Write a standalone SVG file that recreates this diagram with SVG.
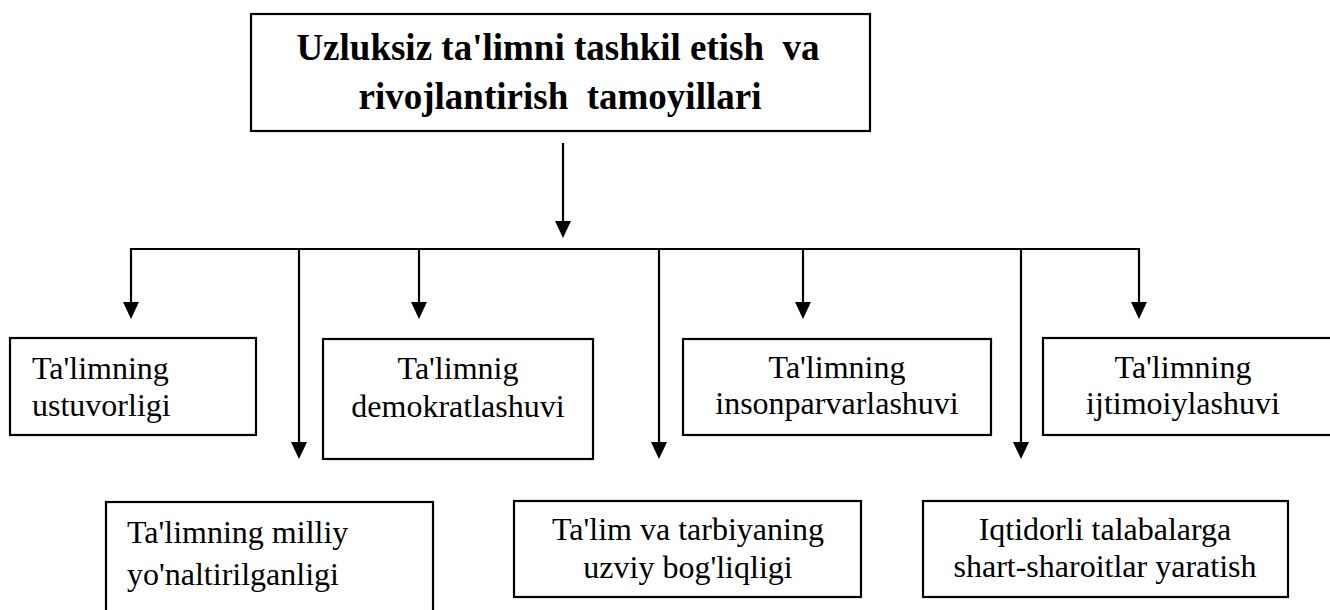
<svg xmlns="http://www.w3.org/2000/svg" width="1330" height="610" viewBox="0 0 1330 610">
<style>
.box{fill:#fff;stroke:#000;stroke-width:2.2}
.t{font-family:"Liberation Serif","Times New Roman",serif;font-size:32px;fill:#000;white-space:pre}
.title{font-family:"Liberation Serif","Times New Roman",serif;font-size:37px;font-weight:bold;fill:#000;white-space:pre}
.c{text-anchor:middle}
.ln{fill:none;stroke:#000;stroke-width:2.2}
</style>
<defs>
<marker id="ah" markerUnits="userSpaceOnUse" viewBox="0 0 17 16" markerWidth="17" markerHeight="16" refX="7" refY="8" orient="auto">
<path d="M0,0 L17,8 L0,16 Z" fill="#000"/>
</marker>
</defs>
<rect width="1330" height="610" fill="#fff"/>
<g id="connectors">
<line class="ln" x1="563" y1="143" x2="563" y2="228" marker-end="url(#ah)"/>
<line class="ln" x1="130" y1="249" x2="1140" y2="249"/>
<line class="ln" x1="131" y1="248" x2="131" y2="309" marker-end="url(#ah)"/>
<line class="ln" x1="299" y1="248" x2="299" y2="449" marker-end="url(#ah)"/>
<line class="ln" x1="419" y1="248" x2="419" y2="309" marker-end="url(#ah)"/>
<line class="ln" x1="659" y1="248" x2="659" y2="449" marker-end="url(#ah)"/>
<line class="ln" x1="803" y1="248" x2="803" y2="309" marker-end="url(#ah)"/>
<line class="ln" x1="1021" y1="248" x2="1021" y2="449" marker-end="url(#ah)"/>
<line class="ln" x1="1139" y1="248" x2="1139" y2="309" marker-end="url(#ah)"/>
</g>
<g id="root">
<rect class="box" x="251" y="14" width="619" height="117"/>
<text class="title c" x="558" y="60">Uzluksiz ta'limni tashkil etish  va</text>
<text class="title c" x="560" y="109">rivojlantirish  tamoyillari</text>
</g>
<g id="ustuvorligi">
<rect class="box" x="10" y="338" width="246" height="97"/>
<text class="t" x="32" y="379">Ta'limning</text>
<text class="t" x="32" y="416">ustuvorligi</text>
</g>
<g id="demokratlashuvi">
<rect class="box" x="323" y="339" width="270" height="120"/>
<text class="t c" x="458" y="379">Ta'limnig</text>
<text class="t c" x="458" y="417">demokratlashuvi</text>
</g>
<g id="insonparvarlashuvi">
<rect class="box" x="683" y="339" width="308" height="96"/>
<text class="t c" x="837" y="378">Ta'limning</text>
<text class="t c" x="837" y="414">insonparvarlashuvi</text>
</g>
<g id="ijtimoiylashuvi">
<rect class="box" x="1043" y="338" width="292" height="97"/>
<text class="t c" x="1183" y="378">Ta'limning</text>
<text class="t c" x="1183" y="414">ijtimoiylashuvi</text>
</g>
<g id="milliy">
<rect class="box" x="106" y="502" width="327" height="115"/>
<text class="t" x="127" y="543">Ta'limning milliy</text>
<text class="t" x="127" y="585">yo'naltirilganligi</text>
</g>
<g id="uzviy">
<rect class="box" x="514" y="501" width="347" height="96"/>
<text class="t c" x="688" y="540">Ta'lim va tarbiyaning</text>
<text class="t c" x="688" y="578">uzviy bog'liqligi</text>
</g>
<g id="iqtidorli">
<rect class="box" x="923" y="501" width="365" height="96"/>
<text class="t c" x="1105" y="540">Iqtidorli talabalarga</text>
<text class="t c" x="1105" y="577">shart-sharoitlar yaratish</text>
</g>
</svg>
